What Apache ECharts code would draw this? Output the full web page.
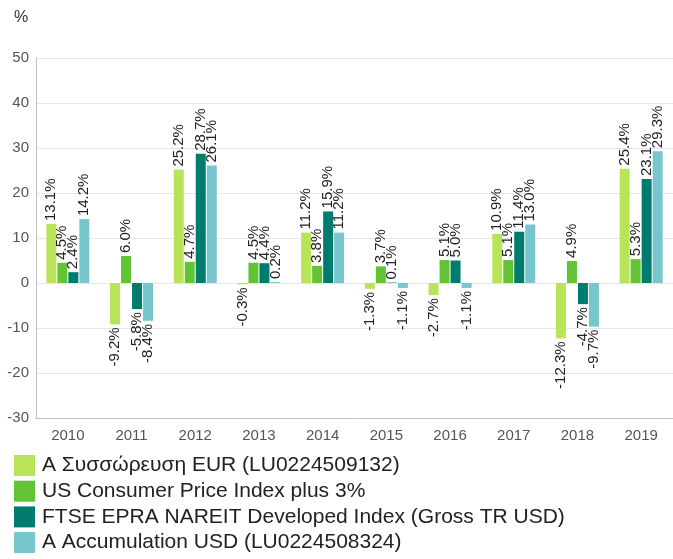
<!DOCTYPE html>
<html>
<head>
<meta charset="utf-8">
<script src="https://cdn.jsdelivr.net/npm/echarts@6/dist/echarts.min.js"></script>
<style>
html,body{margin:0;padding:0;background:#fff;}
#chart{width:673px;height:559px;}
</style>
</head>
<body>
<div id="chart"></div>
<script>
const categories = ['2010','2011','2012','2013','2014','2015','2016','2017','2018','2019'];
const seriesNames = [
  'A Συσσώρευση EUR (LU0224509132)',
  'US Consumer Price Index plus 3%',
  'FTSE EPRA NAREIT Developed Index (Gross TR USD)',
  'A Accumulation USD (LU0224508324)'
];
const fundEur = [13.1, -9.2, 25.2, -0.3, 11.2, -1.3, -2.7, 10.9, -12.3, 25.4];
const cpiPlus3 = [4.5, 6.0, 4.7, 4.5, 3.8, 3.7, 5.1, 5.1, 4.9, 5.3];
const ftseEpra = [2.4, -5.8, 28.7, 4.4, 15.9, 0.1, 5.0, 11.4, -4.7, 23.1];
const fundUsd = [14.2, -8.4, 26.1, 0.2, 11.2, -1.1, -1.1, 13.0, -9.7, 29.3];
const yTicks = [-30, -20, -10, 0, 10, 20, 30, 40, 50];
const colors = ['#b9e45a', '#62c435', '#007c6e', '#78c6cd'];

const FONT = '"Liberation Sans", Arial, sans-serif';
const chart = echarts.init(document.getElementById('chart'), null, {renderer: 'canvas'});

function mkData(arr) {
  return arr.map(v => ({
    value: v,
    label: v < 0 ? {position: 'bottom', align: 'right'} : {position: 'top', align: 'left'}
  }));
}

const allData = [fundEur, cpiPlus3, ftseEpra, fundUsd];
const series = allData.map((arr, i) => ({
  name: seriesNames[i],
  type: 'bar',
  data: mkData(arr),
  barGap: '10%',
  barCategoryGap: '32.5%',
  itemStyle: {color: colors[i]},
  label: {
    show: true,
    rotate: 90,
    distance: 3,
    verticalAlign: 'middle',
    fontSize: 15,
    fontFamily: FONT,
    color: '#222',
    formatter: p => p.value.toFixed(1) + '%'
  }
}));

chart.setOption({
  animation: false,
  backgroundColor: '#fff',
  color: colors,
  title: {
    text: '%',
    left: 9,
    top: 5,
    textStyle: {fontSize: 16, fontWeight: 'normal', color: '#333', fontFamily: FONT}
  },
  grid: {left: 36, top: 58, width: 642, bottom: 141, containLabel: false},
  legend: {
    orient: 'vertical',
    left: 14,
    top: 455,
    padding: 0,
    itemWidth: 21,
    itemHeight: 21,
    itemGap: 4.7,
    icon: 'rect',
    selectedMode: false,
    textStyle: {fontSize: 21, color: '#222', fontFamily: FONT, padding: [0, 0, 0, 2]},
    data: seriesNames
  },
  xAxis: {
    type: 'category',
    data: categories,
    axisTick: {show: false},
    axisLine: {onZero: false, lineStyle: {color: '#c0c0c0'}},
    axisLabel: {fontSize: 15, color: '#555', fontFamily: FONT, margin: 10}
  },
  yAxis: {
    type: 'value',
    min: yTicks[0],
    max: yTicks[yTicks.length - 1],
    interval: 10,
    axisLine: {show: true, lineStyle: {color: '#c0c0c0'}},
    axisTick: {show: false},
    splitLine: {lineStyle: {color: '#e6e6e6'}},
    axisLabel: {fontSize: 15, color: '#555', fontFamily: FONT, margin: 7}
  },
  series: series
});
</script>
</body>
</html>
